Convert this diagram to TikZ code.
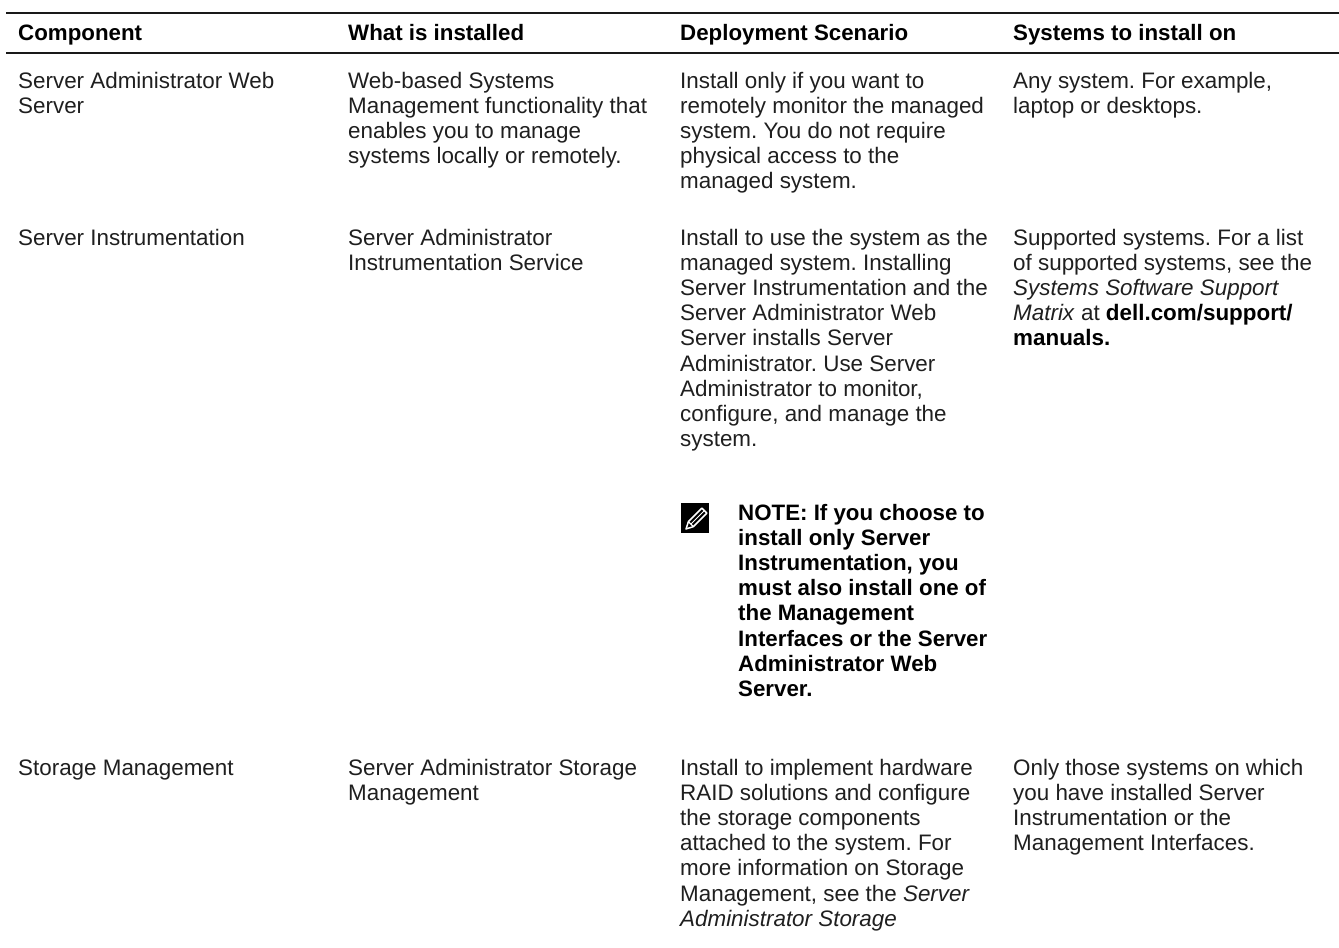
\documentclass[tikz,border=0pt]{standalone}
\usepackage{fontspec}
\setmainfont{Liberation Sans}
\frenchspacing
\begin{document}
\begin{tikzpicture}[x=1pt,y=-1pt,
  cell/.style={anchor=base west,inner sep=0pt,align=left,text=black!88,
    font=\fontsize{22.4}{25.2}\selectfont\frenchspacing},
  head/.style={cell,text=black,font=\fontsize{22.3}{25.2}\selectfont\bfseries},
  note/.style={cell,text=black,font=\fontsize{22.3}{25.2}\selectfont\bfseries\frenchspacing}]
\useasboundingbox[fill=white] (0,0) rectangle (1339,948);
% rules
\coordinate (tl) at (6,13);
\coordinate (tr) at (1339,13);
\coordinate (hl) at (6,53);
\coordinate (hr) at (1339,53);
\draw[line width=2.2pt,black!90] (tl) -- (tr);
\draw[line width=1.6pt,black!90] (hl) -- (hr);
% header (anchor = baseline of last line)
\node[head] (h1) at (18,40) {Component};
\node[head] (h2) at (348,40) {What is installed};
\node[head] (h3) at (680,40) {Deployment Scenario};
\node[head] (h4) at (1013,40) {Systems to install on};
% row 1 (first baseline 88)
\node[cell] (a1) at (18,113.2) {Server Administrator Web\\Server};
\node[cell] (a2) at (348,163.6) {Web-based Systems\\Management functionality that\\enables you to manage\\systems locally or remotely.};
\node[cell] (a3) at (680,188.8) {Install only if you want to\\remotely monitor the managed\\system. You do not require\\physical access to the\\managed system.};
\node[cell] (a4) at (1013,113.2) {Any system. For example,\\laptop or desktops.};
% row 2 (first baseline 245)
\node[cell] (b1) at (18,245) {Server Instrumentation};
\node[cell] (b2) at (348,270.2) {Server Administrator\\Instrumentation Service};
\node[cell] (b3) at (680,446.6) {Install to use the system as the\\managed system. Installing\\Server Instrumentation and the\\Server Administrator Web\\Server installs Server\\Administrator. Use Server\\Administrator to monitor,\\configure, and manage the\\system.};
\node[cell] (b4) at (1013,345.8) {Supported systems. For a list\\of supported systems, see the\\\textit{Systems Software Support}\\\textit{Matrix} at {\color{black}\bfseries dell.com/support/}\\{\color{black}\bfseries manuals.}};
% note icon
\fill[black] (681,503) rectangle (709,533);
\begin{scope}
\clip (681,503) rectangle (709,533);
\draw[white,line width=1.5pt,line join=round]
  (686,529) -- (693.4,526.6) -- (706.9,513.1) -- (701.9,508.1) -- (688.4,521.6) -- cycle;
\draw[white,line width=1.2pt] (693.4,526.6) -- (688.4,521.6);
\draw[white,line width=1pt] (691,524) -- (704.4,510.6);
\end{scope}
% note (first baseline 520)
\node[note] (n1) at (738,696.4) {NOTE: If you choose to\\install only Server\\Instrumentation, you\\must also install one of\\the Management\\Interfaces or the Server\\Administrator Web\\Server.};
% row 3 (first baseline 775)
\node[cell] (c1) at (18,775) {Storage Management};
\node[cell] (c2) at (348,800.2) {Server Administrator Storage\\Management};
\node[cell] (c3) at (680,926.2) {Install to implement hardware\\RAID solutions and configure\\the storage components\\attached to the system. For\\more information on Storage\\Management, see the \textit{Server}\\\textit{Administrator Storage}};
\node[cell] (c4) at (1013,850.6) {Only those systems on which\\you have installed Server\\Instrumentation or the\\Management Interfaces.};
\end{tikzpicture}
\end{document}
